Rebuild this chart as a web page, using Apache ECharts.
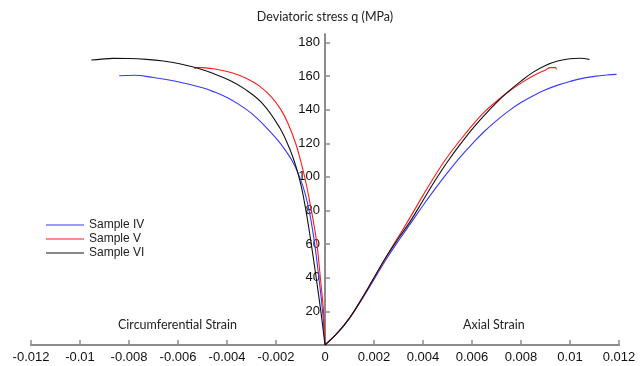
<!DOCTYPE html>
<html>
<head>
<meta charset="utf-8">
<script src="https://cdn.jsdelivr.net/npm/echarts@6/dist/echarts.min.js"></script>
<style>
  html, body { margin: 0; padding: 0; background: #fff; }
  #main { width: 644px; height: 366px; }
</style>
</head>
<body>
<div id="main"></div>
<script>
// strain values (x) and deviatoric stress q in MPa (y)
const sampleNames = ['Sample IV', 'Sample V', 'Sample VI']
const sampleColors = ['#3838ff', '#ff1a1a', '#111111']

// axial branch
const ivAxialStrain = [0, 0.0005, 0.001, 0.0015, 0.002, 0.0025, 0.003, 0.0035, 0.004, 0.0045, 0.005, 0.0055, 0.006, 0.0065, 0.007, 0.0075, 0.008, 0.0085, 0.009, 0.0095, 0.01, 0.0105, 0.011, 0.0115, 0.0119]
const ivAxialQ = [0, 7, 16, 27, 39, 51, 62, 72.5, 83, 93, 102.5, 111.5, 119.5, 127, 133.5, 139.3, 144.2, 148.3, 151.8, 154.6, 156.8, 158.6, 159.8, 160.6, 161]

const vAxialStrain = [0, 0.0005, 0.001, 0.0015, 0.002, 0.0025, 0.003, 0.0035, 0.004, 0.0045, 0.005, 0.0055, 0.006, 0.0065, 0.007, 0.0075, 0.008, 0.0085, 0.009, 0.0092, 0.0094, 0.00945]
const vAxialQ = [0, 7, 16, 27.5, 40, 52.5, 64.5, 76.5, 89, 101, 112, 121.5, 130.5, 138.5, 145, 150.8, 155.8, 160.2, 163.6, 165, 165, 164]

const viAxialStrain = [0, 0.0005, 0.001, 0.0015, 0.002, 0.0025, 0.003, 0.0035, 0.004, 0.0045, 0.005, 0.0055, 0.006, 0.0065, 0.007, 0.0075, 0.008, 0.0085, 0.009, 0.0095, 0.01, 0.0104, 0.0108]
const viAxialQ = [0, 7, 16, 27.5, 40, 52.5, 63.5, 74, 86, 98, 109, 119, 128.3, 136.6, 144.2, 151, 157, 162.3, 166.3, 168.9, 170.3, 170.6, 169.8]

// circumferential branch
const ivCircStrain = [0, -0.0001, -0.00025, -0.00042, -0.00062, -0.0008, -0.001, -0.0013, -0.0016, -0.002, -0.0025, -0.003, -0.0035, -0.004, -0.0045, -0.005, -0.006, -0.007, -0.0078, -0.0084]
const ivCircQ = [0, 20, 40, 60, 78, 89.5, 98.5, 108.5, 115.5, 123, 131, 137.8, 143, 147.2, 150.4, 153, 156.6, 159.1, 160.5, 160.2]

const vCircStrain = [0, -0.00006, -0.00019, -0.00033, -0.00048, -0.00062, -0.0008, -0.001, -0.0012, -0.0015, -0.0018, -0.0022, -0.0027, -0.0032, -0.0038, -0.0045, -0.005, -0.0052, -0.00533]
const vCircQ = [0, 20, 40, 60, 74, 85, 98, 110, 120, 131.5, 140, 147.8, 154.3, 158.6, 162, 164.2, 165, 165.1, 164.3]

const viCircStrain = [0, -0.00017, -0.00036, -0.00056, -0.00072, -0.00084, -0.00097, -0.00118, -0.00145, -0.00186, -0.00254, -0.0033, -0.0039, -0.00458, -0.00526, -0.00594, -0.0066, -0.0073, -0.008, -0.00866, -0.0092, -0.00954]
const viCircQ = [0, 20, 40, 60, 75, 85, 94.5, 106, 117, 129.5, 143.5, 152.5, 157.5, 161.6, 164.9, 167.3, 168.9, 169.9, 170.4, 170.5, 169.9, 169.5]

const yTicks = [20, 40, 60, 80, 100, 120, 140, 160, 180]

function pairs (xs, ys) {
  return xs.map((x, i) => [x, ys[i]])
}

const branches = [
  [0, ivAxialStrain, ivAxialQ], [0, ivCircStrain, ivCircQ],
  [1, vAxialStrain, vAxialQ], [1, vCircStrain, vCircQ],
  [2, viAxialStrain, viAxialQ], [2, viCircStrain, viCircQ]
]

const axisGray = '#8c8c8c'
const tickFont = 'Liberation Sans'
const gridLeft = 31
const gridRight = 25
// the y axis sits on strain 0, i.e. in the middle of the plot width
const yAxisShift = (644 - gridLeft - gridRight) / 2

let chart = echarts.init(document.getElementById('main'))
let option = {
  backgroundColor: '#fff',
  animation: false,
  color: sampleColors,
  grid: {
    left: gridLeft,
    right: gridRight,
    top: 34,
    bottom: 21
  },
  legend: {
    data: sampleNames,
    orient: 'vertical',
    left: 41,
    top: 214,
    icon: 'rect',
    itemWidth: 38,
    itemHeight: 1.2,
    itemGap: 2,
    textStyle: {
      fontFamily: tickFont,
      fontSize: 12,
      color: '#222'
    }
  },
  xAxis: {
    type: 'value',
    min: -0.012,
    max: 0.012,
    interval: 0.002,
    splitLine: { show: false },
    axisLine: { lineStyle: { color: axisGray, width: 2 } },
    axisTick: { inside: true, length: 5, lineStyle: { color: axisGray, width: 1.5 } },
    axisLabel: {
      margin: 6,
      fontFamily: tickFont,
      fontSize: 13,
      color: '#111'
    }
  },
  yAxis: {
    type: 'value',
    min: 0,
    max: 185,
    offset: -yAxisShift,
    name: 'Deviatoric stress q (MPa)',
    nameLocation: 'end',
    nameGap: 11,
    nameTextStyle: {
      fontFamily: 'Lato',
      fontSize: 12.5,
      color: '#222'
    },
    splitLine: { show: false },
    axisLine: { onZero: false, lineStyle: { color: axisGray, width: 2 } },
    axisTick: {
      inside: true,
      length: 5,
      customValues: yTicks,
      lineStyle: { color: axisGray, width: 1.5 }
    },
    axisLabel: {
      customValues: yTicks,
      margin: 5,
      fontFamily: tickFont,
      fontSize: 13,
      color: '#111'
    }
  },
  graphic: [
    {
      type: 'text',
      left: 118,
      top: 318,
      style: { text: 'Circumferential Strain', font: '12.5px Lato', fill: '#222' }
    },
    {
      type: 'text',
      left: 463,
      top: 318,
      style: { text: 'Axial Strain', font: '12.5px Lato', fill: '#222' }
    }
  ],
  series: branches.map(b => ({
    name: sampleNames[b[0]],
    type: 'line',
    smooth: 0.4,
    showSymbol: false,
    symbol: 'none',
    z: 3,
    lineStyle: { width: 1.1, color: sampleColors[b[0]] },
    data: pairs(b[1], b[2])
  }))
}

chart.setOption(option)
</script>
</body>
</html>
